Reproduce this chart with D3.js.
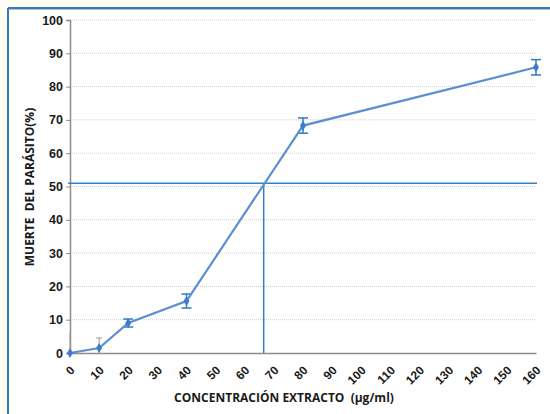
<!DOCTYPE html>
<html>
<head>
<meta charset="utf-8">
<script src="https://cdn.jsdelivr.net/npm/d3@7"></script>
<style>
  body { margin: 0; background: #fffdf2; }
  svg { display: block; }
</style>
</head>
<body>
<svg id="chart" width="550" height="414"></svg>
<script>
// data
var concentracion = [0, 10, 20, 40, 80, 160];
var muerte = [0, 1.5, 9, 15.6, 68.3, 85.8];
var errorMuerte = [6, 3, 1.2, 2.1, 2.3, 2.3];
var xTicks = d3.range(0, 161, 10);
var yTicks = d3.range(0, 101, 10);
var ic50 = { x: 66.5, y: 51 };

var svg = d3.select('#chart');

// white card with blue frame
svg.append('rect')
    .attr('x', 8).attr('y', 8)
    .attr('width', 560).attr('height', 420)
    .attr('fill', '#fff');
svg.append('line')
    .attr('x1', 8).attr('x2', 550).attr('y1', 8).attr('y2', 8)
    .attr('stroke', '#2f7bc4').attr('stroke-width', 2);
svg.append('line')
    .attr('x1', 8).attr('x2', 550).attr('y1', 9.5).attr('y2', 9.5)
    .attr('stroke', '#bbb').attr('stroke-width', 1);
svg.append('line')
    .attr('x1', 8).attr('x2', 8).attr('y1', 8).attr('y2', 414)
    .attr('stroke', '#2f7bc4').attr('stroke-width', 2);

var x = d3.scaleLinear().domain([0, 160]).range([70, 536]);
var y = d3.scaleLinear().domain([0, 100]).range([353, 20]);

// gridlines
svg.append('g')
    .selectAll('line')
    .data(yTicks.slice(1))
    .join('line')
    .attr('x1', 70).attr('x2', 535)
    .attr('y1', function(d) { return y(d); })
    .attr('y2', function(d) { return y(d); })
    .attr('stroke', '#cfcfcf')
    .attr('stroke-dasharray', '1,1');

// axes
var yAxis = svg.append('g')
    .attr('transform', 'translate(70,0)')
    .call(d3.axisLeft(y).tickValues(yTicks).tickSize(4).tickPadding(3));
yAxis.select('.domain').attr('stroke', '#8c8c8c').attr('stroke-width', 1.5);
yAxis.selectAll('.tick line').attr('stroke', '#8c8c8c');
yAxis.selectAll('text')
    .attr('font-family', 'Arial, "Liberation Sans", sans-serif')
    .attr('font-weight', 'bold')
    .attr('font-size', 12.5)
    .attr('fill', '#1a1a1a');

var xAxis = svg.append('g')
    .attr('transform', 'translate(0,353)')
    .call(d3.axisBottom(x).tickValues(xTicks).tickSize(0).tickPadding(0));
xAxis.select('.domain').attr('stroke', '#8c8c8c').attr('stroke-width', 1.5);
xAxis.selectAll('text')
    .attr('font-family', 'Arial, "Liberation Sans", sans-serif')
    .attr('font-weight', 'bold')
    .attr('font-size', 12)
    .attr('fill', '#1a1a1a')
    .attr('dy', 0)
    .attr('text-anchor', 'end')
    .attr('transform', 'translate(5,18) rotate(-45)');

// IC50 reference lines
svg.append('line')
    .attr('x1', 68).attr('x2', 537)
    .attr('y1', y(ic50.y)).attr('y2', y(ic50.y))
    .attr('stroke', '#2f80c8').attr('stroke-width', 1.5);
svg.append('line')
    .attr('x1', x(ic50.x)).attr('x2', x(ic50.x))
    .attr('y1', y(ic50.y)).attr('y2', y(0))
    .attr('stroke', '#2f80c8').attr('stroke-width', 1.5);

var pts = concentracion.map(function(c, i) {
    return { x: c, y: muerte[i], e: errorMuerte[i], i: i };
});

// error bars
var eb = svg.append('g').selectAll('g')
    .data(pts)
    .join('g')
    .attr('stroke', function(d) { return d.i < 2 ? '#999' : '#2f7bc4'; })
    .attr('stroke-width', function(d) { return d.i < 2 ? 1 : 1.5; });
eb.append('line')
    .attr('x1', function(d) { return x(d.x); })
    .attr('x2', function(d) { return x(d.x); })
    .attr('y1', function(d) { return y(Math.max(0, d.y - d.e)); })
    .attr('y2', function(d) { return y(d.y + d.e); });
eb.filter(function(d) { return d.i >= 1; })
    .selectAll('line.cap')
    .data(function(d) {
        var r = d.i < 2 ? [d.y + d.e] : [d.y - d.e, d.y + d.e];
        return r.map(function(v) { return { x: d.x, v: v, w: d.i < 2 ? 3 : 5 }; });
    })
    .join('line')
    .attr('class', 'cap')
    .attr('x1', function(d) { return x(d.x) - d.w; })
    .attr('x2', function(d) { return x(d.x) + d.w; })
    .attr('y1', function(d) { return y(d.v); })
    .attr('y2', function(d) { return y(d.v); });

// series line
var line = d3.line()
    .x(function(d) { return x(d.x); })
    .y(function(d) { return y(d.y); });
svg.append('path')
    .datum(pts)
    .attr('d', line)
    .attr('fill', 'none')
    .attr('stroke', '#5b8fd0')
    .attr('stroke-width', 2.2);

svg.append('g').selectAll('path')
    .data(pts)
    .join('path')
    .attr('d', d3.symbol().type(d3.symbolDiamond).size(30))
    .attr('transform', function(d) { return 'translate(' + x(d.x) + ',' + y(d.y) + ')'; })
    .attr('fill', '#3f7cc7');

// axis titles
svg.append('text')
    .attr('x', 284).attr('y', 402)
    .attr('text-anchor', 'middle')
    .attr('font-family', '"Open Sans", sans-serif')
    .attr('font-weight', 'bold')
    .attr('font-size', 12)
    .attr('fill', '#1a1a1a')
    .attr('xml:space', 'preserve')
    .text('CONCENTRACIÓN EXTRACTO  (µg/ml)');

svg.append('text')
    .attr('transform', 'translate(34,187) rotate(-90)')
    .attr('text-anchor', 'middle')
    .attr('font-family', '"Open Sans", sans-serif')
    .attr('font-weight', 'bold')
    .attr('font-size', 12)
    .attr('fill', '#1a1a1a')
    .attr('xml:space', 'preserve')
    .text('MUERTE  DEL PARÁSITO(%)');
</script>
</body>
</html>
